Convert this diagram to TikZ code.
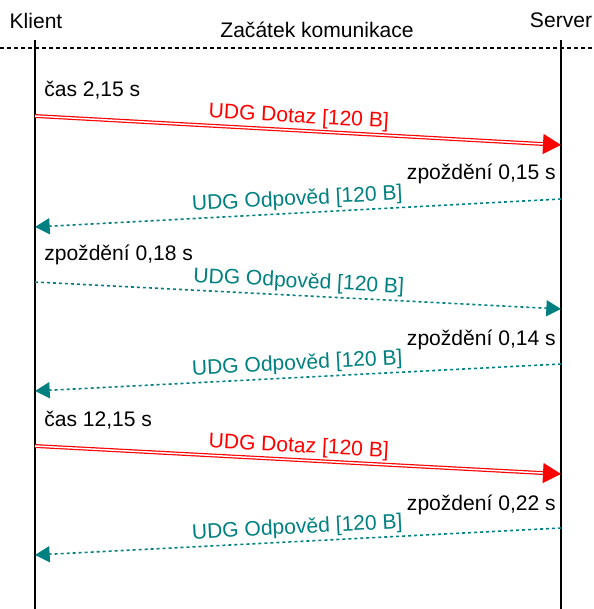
\documentclass[tikz,border=0pt]{standalone}
\usepackage{fontspec}
\setmainfont{Liberation Sans}
\usepackage{xcolor}
\usetikzlibrary{arrows.meta,calc}
\definecolor{odpovedcol}{RGB}{0,128,128}

\begin{document}
\begin{tikzpicture}[
  x=0.75pt, y=-0.75pt,
  every node/.style={font=\fontsize{15.8}{19}\selectfont, inner sep=0pt},
  lifeline/.style={line width=1.5pt},
  dotaz/.style={draw=red, double, line width=0.9pt, double distance=1.1pt, -{Triangle[length=13.5pt, width=15pt]}},
  odpoved/.style={odpovedcol, line width=1.2pt, dash pattern=on 2.25pt off 2.25pt, -{Triangle[length=11pt, width=12pt]}},
  popis/.style={midway, above=2pt, sloped},
  note/.style={anchor=base west},
  noteR/.style={anchor=base east}
]
\useasboundingbox (0,0) rectangle (593,609);

% ucastnici
\node[anchor=base] (klient) at (36,29) {Klient};
\node[anchor=base] (server) at (561,28) {Server};
\node[anchor=base] (zacatek) at (317,38) {Začátek komunikace};

\coordinate (ktop) at (35,40);
\coordinate (kbot) at (35,609);
\coordinate (stop) at (561,40);
\coordinate (sbot) at (561,609);
\draw[lifeline] (ktop) -- (kbot);
\draw[lifeline] (stop) -- (sbot);

% zacatek komunikace
\coordinate (zl) at (0,48);
\coordinate (zr) at (593,48);
\draw[line width=1.1pt, dash pattern=on 3pt off 2.25pt] (zl) -- (zr);

% body zprav
\coordinate (k1) at (35,116);  \coordinate (s1) at (561,145);
\coordinate (s2) at (561,199); \coordinate (k2) at (35,227);
\coordinate (k3) at (35,282);  \coordinate (s3) at (561,309);
\coordinate (s4) at (561,364); \coordinate (k4) at (35,391);
\coordinate (k5) at (35,446);  \coordinate (s5) at (561,474);
\coordinate (s6) at (561,528); \coordinate (k6) at (35,555);

% zpravy
\draw[dotaz] (k1) -- node[popis, text=red] {UDG Dotaz [120 B]} (s1);
\draw[odpoved] (s2) -- node[popis] {UDG Odpověd [120 B]} (k2);
\draw[odpoved] (k3) -- node[popis] {UDG Odpověd [120 B]} (s3);
\draw[odpoved] (s4) -- node[popis] {UDG Odpověd [120 B]} (k4);
\draw[dotaz] (k5) -- node[popis, text=red] {UDG Dotaz [120 B]} (s5);
\draw[odpoved] (s6) -- node[popis] {UDG Odpověd [120 B]} (k6);

% casy
\node[note] (cas1) at (44,97) {čas 2,15 s};
\node[noteR] (zp1) at (556,180) {zpoždění 0,15 s};
\node[note] (zp2) at (44,260) {zpoždění 0,18 s};
\node[noteR] (zp3) at (556,345) {zpoždění 0,14 s};
\node[note] (cas2) at (44,426) {čas 12,15 s};
\node[noteR] (zp4) at (556,510) {zpoždení 0,22 s};
\end{tikzpicture}
\end{document}
